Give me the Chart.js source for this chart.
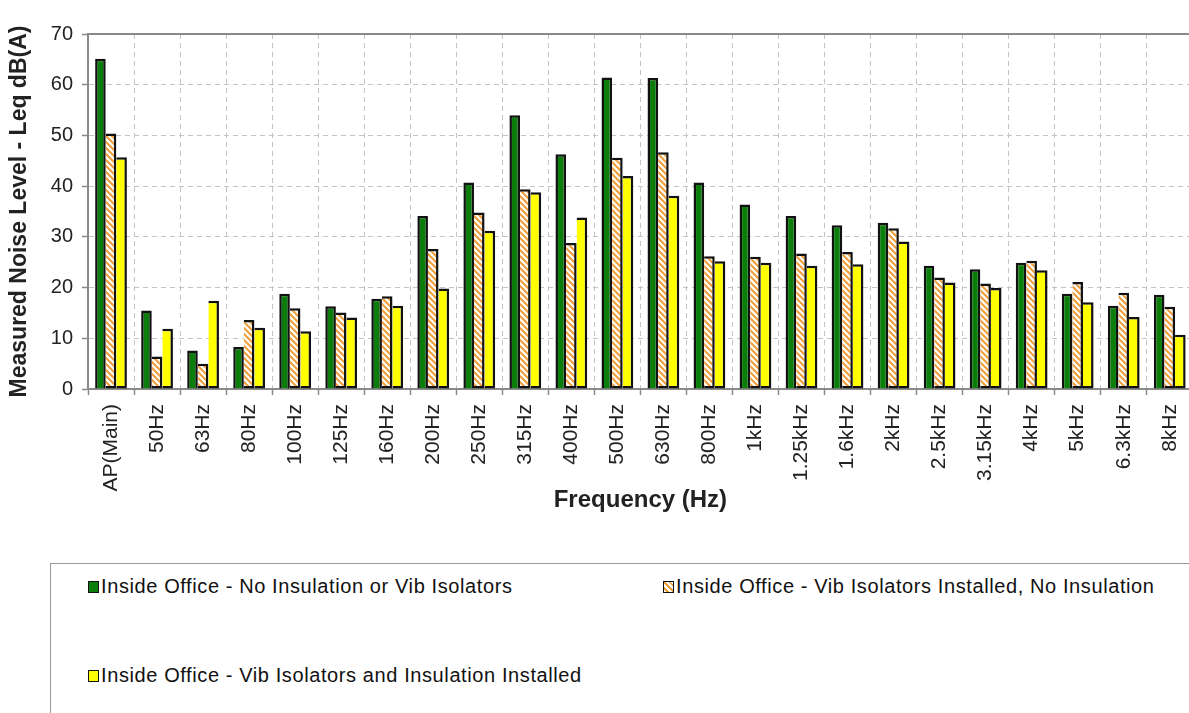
<!DOCTYPE html>
<html>
<head>
<meta charset="utf-8">
<script src="https://cdn.jsdelivr.net/npm/chart.js@4.4.0/dist/chart.umd.min.js"></script>
<style>
html, body { margin: 0; padding: 0; background: #fff; overflow: hidden; width: 1189px; height: 713px; }
#wrap { position: absolute; left: 0; top: 0; width: 1204px; height: 530px; }
#legend { position: absolute; left: 50px; top: 563px; width: 1200px; height: 200px; border: 1.5px solid #9a9a9a;
  font-family: "Liberation Sans", Arial, sans-serif; font-size: 20px; letter-spacing: 0.6px; color: #111; }
.item { position: absolute; display: flex; align-items: center; white-space: nowrap; }
.sw { width: 9px; height: 10px; border: 1.5px solid #111; margin-right: 2px; }
</style>
</head>
<body>
<div id="wrap"><canvas id="chart"></canvas></div>
<div id="legend"></div>
<script>
const categories = ['AP(Main)', '50Hz', '63Hz', '80Hz', '100Hz', '125Hz', '160Hz', '200Hz', '250Hz', '315Hz', '400Hz', '500Hz',
  '630Hz', '800Hz', '1kHz', '1.25kHz', '1.6kHz', '2kHz', '2.5kHz', '3.15kHz', '4kHz', '5kHz', '6.3kHz', '8kHz'];
const noInsulation = [65.1, 15.5, 7.6, 8.3, 18.8, 16.3, 17.8, 34.1, 40.7, 54.0, 46.3, 61.4,
  61.3, 40.7, 36.4, 34.1, 32.3, 32.8, 24.3, 23.6, 24.9, 18.8, 16.4, 18.6];
const vibIsolators = [50.4, 6.4, 5.0, 13.6, 15.9, 15.1, 18.3, 27.6, 34.8, 39.4, 28.8, 45.6,
  46.7, 26.2, 26.1, 26.7, 27.0, 31.7, 22.0, 20.8, 25.3, 21.1, 19.0, 16.2];
const vibAndInsulation = [45.7, 11.9, 17.4, 12.1, 11.4, 14.1, 16.4, 19.8, 31.2, 38.8, 33.8, 42.0,
  38.1, 25.2, 24.9, 24.3, 24.6, 29.1, 21.0, 19.9, 23.4, 17.1, 14.2, 10.7];
const seriesLabels = ['Inside Office - No Insulation or Vib Isolators',
  'Inside Office - Vib Isolators Installed, No Insulation',
  'Inside Office - Vib Isolators and Insulation Installed'];
const yMin = 0, yMax = 70, yStep = 10;

const green = '#0a7d0a';
const yellow = '#ffff00';
const stripe = '#f0a03c';

// diagonal orange stripes on white
function hatch() {
  const c = document.createElement('canvas');
  c.width = 6; c.height = 6;
  const g = c.getContext('2d');
  g.fillStyle = '#fff';
  g.fillRect(0, 0, 6, 6);
  g.strokeStyle = stripe;
  g.lineWidth = 2.2;
  g.beginPath();
  g.moveTo(-1, -1); g.lineTo(7, 7);
  g.moveTo(-1, 5); g.lineTo(1, 7);
  g.moveTo(5, -1); g.lineTo(7, 1);
  g.stroke();
  return g.createPattern(c, 'repeat');
}

const fills = [green, hatch(), yellow];
const values = [noInsulation, vibIsolators, vibAndInsulation];
const skipped = ['bottom', 'left', 'left'];

// solid line along top of plot area
const topBorder = {
  id: 'topBorder',
  beforeDatasetsDraw(chart) {
    const { ctx, chartArea } = chart;
    ctx.save();
    ctx.strokeStyle = '#8a8a8a';
    ctx.lineWidth = 2;
    ctx.beginPath();
    ctx.moveTo(chartArea.left, chartArea.top);
    ctx.lineTo(chartArea.right, chartArea.top);
    ctx.stroke();
    ctx.restore();
  }
};

const font = 'Liberation Sans, Arial, sans-serif';

new Chart(document.getElementById('chart'), {
  type: 'bar',
  data: {
    labels: categories,
    datasets: values.map((v, i) => ({
      label: seriesLabels[i],
      data: v,
      backgroundColor: fills[i],
      borderColor: '#111',
      borderWidth: 2.5,
      borderSkipped: skipped[i],
      categoryPercentage: 0.69,
      barPercentage: 1.0
    }))
  },
  options: {
    responsive: true,
    maintainAspectRatio: false,
    animation: false,
    layout: { padding: { left: 0, top: 34, right: 2, bottom: 15 } },
    plugins: { legend: { display: false }, tooltip: { enabled: false } },
    scales: {
      x: {
        grid: { color: '#c4c4c4', offset: true, tickLength: 6, tickColor: '#888', tickWidth: 1.5 },
        border: { color: '#8a8a8a', width: 2, dash: [5, 4] },
        ticks: { font: { family: font, size: 21 }, color: '#222', minRotation: 90, maxRotation: 90, autoSkip: false, padding: 9 },
        title: { display: true, text: 'Frequency (Hz)', font: { family: font, size: 24, weight: 'bold' }, color: '#222', padding: { top: 4, bottom: 0 } },
        afterFit: s => { s.height = 126; }
      },
      y: {
        min: yMin, max: yMax,
        grid: { color: '#c4c4c4', tickLength: 6, tickColor: '#888', tickWidth: 1.5 },
        border: { color: '#8a8a8a', width: 2, dash: [5, 4] },
        ticks: { stepSize: yStep, font: { family: font, size: 20 }, color: '#222', padding: 9 },
        title: { display: true, text: 'Measured Noise Level - Leq dB(A)', font: { family: font, size: 23, weight: 'bold' }, color: '#222', padding: { top: 6, bottom: 0 } },
        afterFit: s => { s.width = 88; }
      }
    }
  },
  plugins: [topBorder]
});

// legend box below the chart
const legendPos = [[37, 11], [612, 11], [37, 100]];
const swatchCss = [green, 'repeating-linear-gradient(45deg, #fff 0 2px, ' + stripe + ' 2px 4px)', yellow];
const legend = document.getElementById('legend');
seriesLabels.forEach((t, i) => {
  const it = document.createElement('div');
  it.className = 'item';
  it.style.left = legendPos[i][0] + 'px';
  it.style.top = legendPos[i][1] + 'px';
  const sw = document.createElement('span');
  sw.className = 'sw';
  sw.style.background = swatchCss[i];
  const tx = document.createElement('span');
  tx.textContent = t;
  it.appendChild(sw);
  it.appendChild(tx);
  legend.appendChild(it);
});
</script>
</body>
</html>
